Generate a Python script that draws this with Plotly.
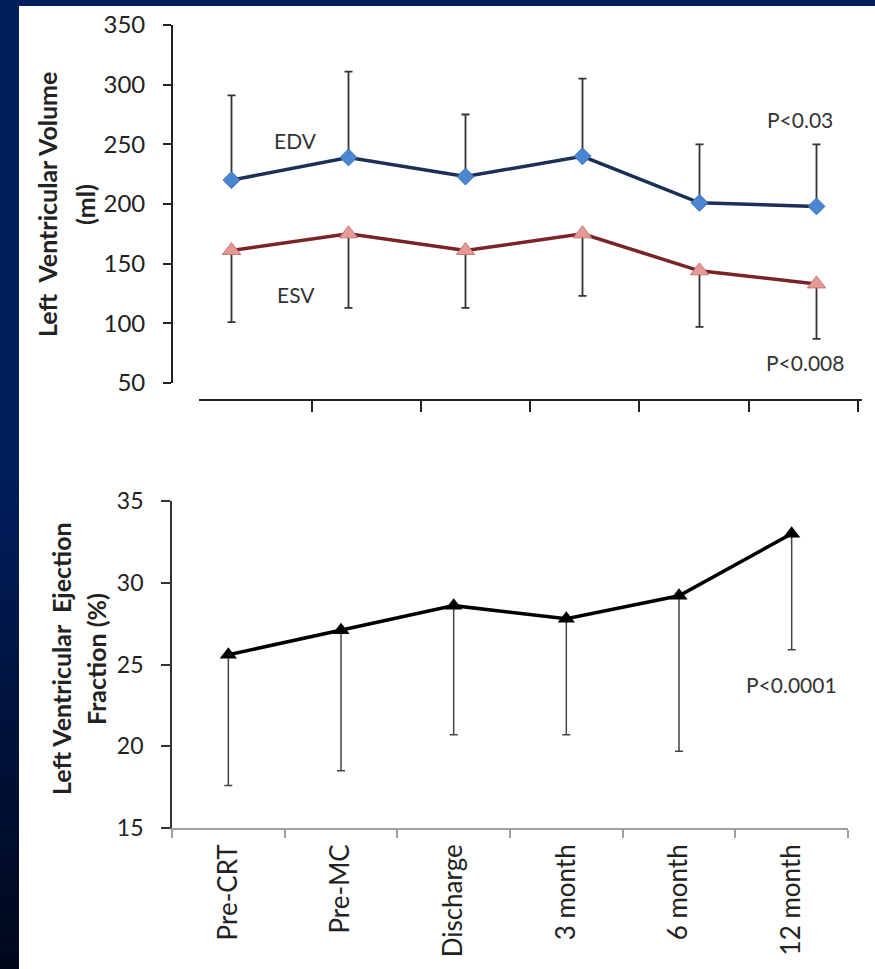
import plotly.graph_objects as go

# Follow-up time points
categories = ["Pre-CRT", "Pre-MC", "Discharge", "3 month", "6 month", "12 month"]

# Left ventricular volumes (ml) with one-sided SD bars
edv_mean = [220, 239, 223, 240, 201, 198]
edv_sd_up = [71, 72, 52, 65, 49, 52]
esv_mean = [161, 175, 161, 175, 144, 133]
esv_sd_down = [60, 62, 48, 52, 47, 46]

# Left ventricular ejection fraction (%) with one-sided SD bars
lvef_mean = [25.6, 27.1, 28.6, 27.8, 29.2, 33.0]
lvef_sd_down = [8.0, 8.6, 7.9, 7.1, 9.5, 7.1]

W, H = 875, 969
FONT = "Lato"
NBSP = "\u00a0"


def px(x):
    return x / W


def py(y):
    return 1 - y / H


fig = go.Figure()

# --- Upper panel: volumes ---
fig.add_trace(go.Scatter(
    x=categories, y=edv_mean, mode="lines+markers", name="EDV",
    line=dict(color="#1b3057", width=3.5),
    marker=dict(symbol="diamond", size=13, color="#4a86d3",
                line=dict(color="#3a6fb0", width=1)),
    error_y=dict(type="data", symmetric=False, array=edv_sd_up,
                 arrayminus=[0] * len(edv_sd_up),
                 color="#333333", thickness=1.8, width=4),
    xaxis="x", yaxis="y", showlegend=False, hoverinfo="skip",
))
fig.add_trace(go.Scatter(
    x=categories, y=esv_mean, mode="lines+markers", name="ESV",
    line=dict(color="#7a2428", width=3.5),
    marker=dict(symbol="triangle-up", size=16, color="#e59a98",
                line=dict(color="#c87674", width=1)),
    error_y=dict(type="data", symmetric=False, array=[0] * len(esv_sd_down),
                 arrayminus=esv_sd_down,
                 color="#333333", thickness=1.8, width=4),
    xaxis="x", yaxis="y", showlegend=False, hoverinfo="skip",
))
# Separate baseline axis under the upper panel
fig.add_trace(go.Scatter(x=[None], y=[None], xaxis="x3", yaxis="y",
                         showlegend=False, hoverinfo="skip"))

# --- Lower panel: ejection fraction ---
fig.add_trace(go.Scatter(
    x=categories, y=lvef_mean, mode="lines+markers", name="LVEF",
    line=dict(color="#000000", width=3.5),
    marker=dict(symbol="triangle-up", size=15, color="#000000"),
    error_y=dict(type="data", symmetric=False, array=[0] * len(lvef_sd_down),
                 arrayminus=lvef_sd_down,
                 color="#444444", thickness=1.5, width=4),
    xaxis="x2", yaxis="y2", showlegend=False, hoverinfo="skip",
))

fig.update_layout(
    template="none",
    width=W, height=H,
    margin=dict(l=0, r=0, t=0, b=0, autoexpand=False),
    paper_bgcolor="#001d5c",
    plot_bgcolor="rgba(0,0,0,0)",
    font=dict(family=FONT, color="#222222"),
    xaxis=dict(domain=[px(173), 1.0], anchor="y", type="category",
               range=[-0.5, 5.5], showline=False, showticklabels=False,
               ticks="", showgrid=False, zeroline=False, automargin=False),
    yaxis=dict(domain=[py(383), py(25)], anchor="x", range=[50, 350],
               tickvals=[50, 100, 150, 200, 250, 300, 350],
               showline=True, linecolor="#222222", linewidth=1.8,
               ticks="outside", ticklen=8, tickcolor="#222222", tickwidth=1.8,
               tickfont=dict(family=FONT, size=24, color="#222222"),
               ticklabelstandoff=13,
               showgrid=False, zeroline=False, automargin=False),
    xaxis3=dict(domain=[px(199), px(862)], anchor="free", position=py(400),
                range=[-0.035, 6.04], tickvals=[1, 2, 3, 4, 5, 6],
                showticklabels=False, showline=True, linecolor="#222222",
                linewidth=1.8, ticks="outside", ticklen=11,
                tickcolor="#222222", tickwidth=1.8,
                showgrid=False, zeroline=False, automargin=False),
    xaxis2=dict(domain=[px(172), px(848)], anchor="y2", type="category",
                range=[-0.5, 5.5], showline=True, linecolor="#a0a0a0",
                linewidth=1.8, ticks="outside", tickson="boundaries",
                ticklen=8, tickcolor="#a0a0a0", tickwidth=1.5,
                tickangle=-90, tickfont=dict(family=FONT, size=26, color="#222222"),
                ticklabelstandoff=4,
                showgrid=False, zeroline=False, automargin=False),
    yaxis2=dict(domain=[py(828), py(501)], anchor="x2", range=[15, 35],
                tickvals=[15, 20, 25, 30, 35],
                showline=True, linecolor="#333333", linewidth=1.8,
                ticks="outside", ticklen=9, tickcolor="#333333", tickwidth=1.5,
                tickfont=dict(family=FONT, size=23, color="#222222"),
                ticklabelstandoff=13, showgrid=False, zeroline=False,
                automargin=False),
)

# White slide panel and darkening navy edge on the left
shapes = [dict(type="rect", xref="paper", yref="paper",
               x0=px(19), x1=1.0, y0=-0.01, y1=py(6),
               fillcolor="#ffffff", line=dict(width=0), layer="below")]
top_rgb = (0, 29, 92)
bot_rgb = (0, 8, 26)
n_bands = 40
start = 480
for i in range(n_bands):
    y0 = start + (H - start) * i / n_bands
    y1 = start + (H - start) * (i + 1) / n_bands
    t = (i + 0.5) / n_bands
    c = tuple(round(a + (b - a) * t) for a, b in zip(top_rgb, bot_rgb))
    shapes.append(dict(type="rect", xref="paper", yref="paper",
                       x0=0, x1=px(19), y0=py(y1), y1=py(y0),
                       fillcolor="rgb(%d,%d,%d)" % c, line=dict(width=0),
                       layer="below"))
fig.update_layout(shapes=shapes)

title_font = dict(family=FONT, size=25, color="#222222")
ann_font = dict(family=FONT, size=21, color="#333333")


def title_line(text, x, y):
    return dict(text="<b>%s</b>" % text, textangle=-90, xref="paper",
                yref="paper", x=px(x), y=py(y), xanchor="center",
                yanchor="middle", showarrow=False, font=title_font)


annotations = [
    title_line("Left" + NBSP + " Ventricular Volume", 47, 205),
    title_line("(ml)", 85, 205),
    title_line("Left Ventricular" + NBSP + " Ejection", 61, 659),
    title_line("Fraction (%)", 96, 659),
    dict(text="EDV", xref="x", yref="y", x=0.55, y=253, showarrow=False,
         font=ann_font),
    dict(text="ESV", xref="x", yref="y", x=0.55, y=124, showarrow=False,
         font=ann_font),
    dict(text="P<0.03", xref="x", yref="y", x=4.86, y=271, showarrow=False,
         font=ann_font),
    dict(text="P<0.008", xref="x", yref="y", x=4.9, y=67, showarrow=False,
         font=ann_font),
    dict(text="P<0.0001", xref="x2", yref="y2", x=5.0, y=23.8, showarrow=False,
         font=ann_font),
]
fig.update_layout(annotations=annotations)

fig.write_html("out.html")
